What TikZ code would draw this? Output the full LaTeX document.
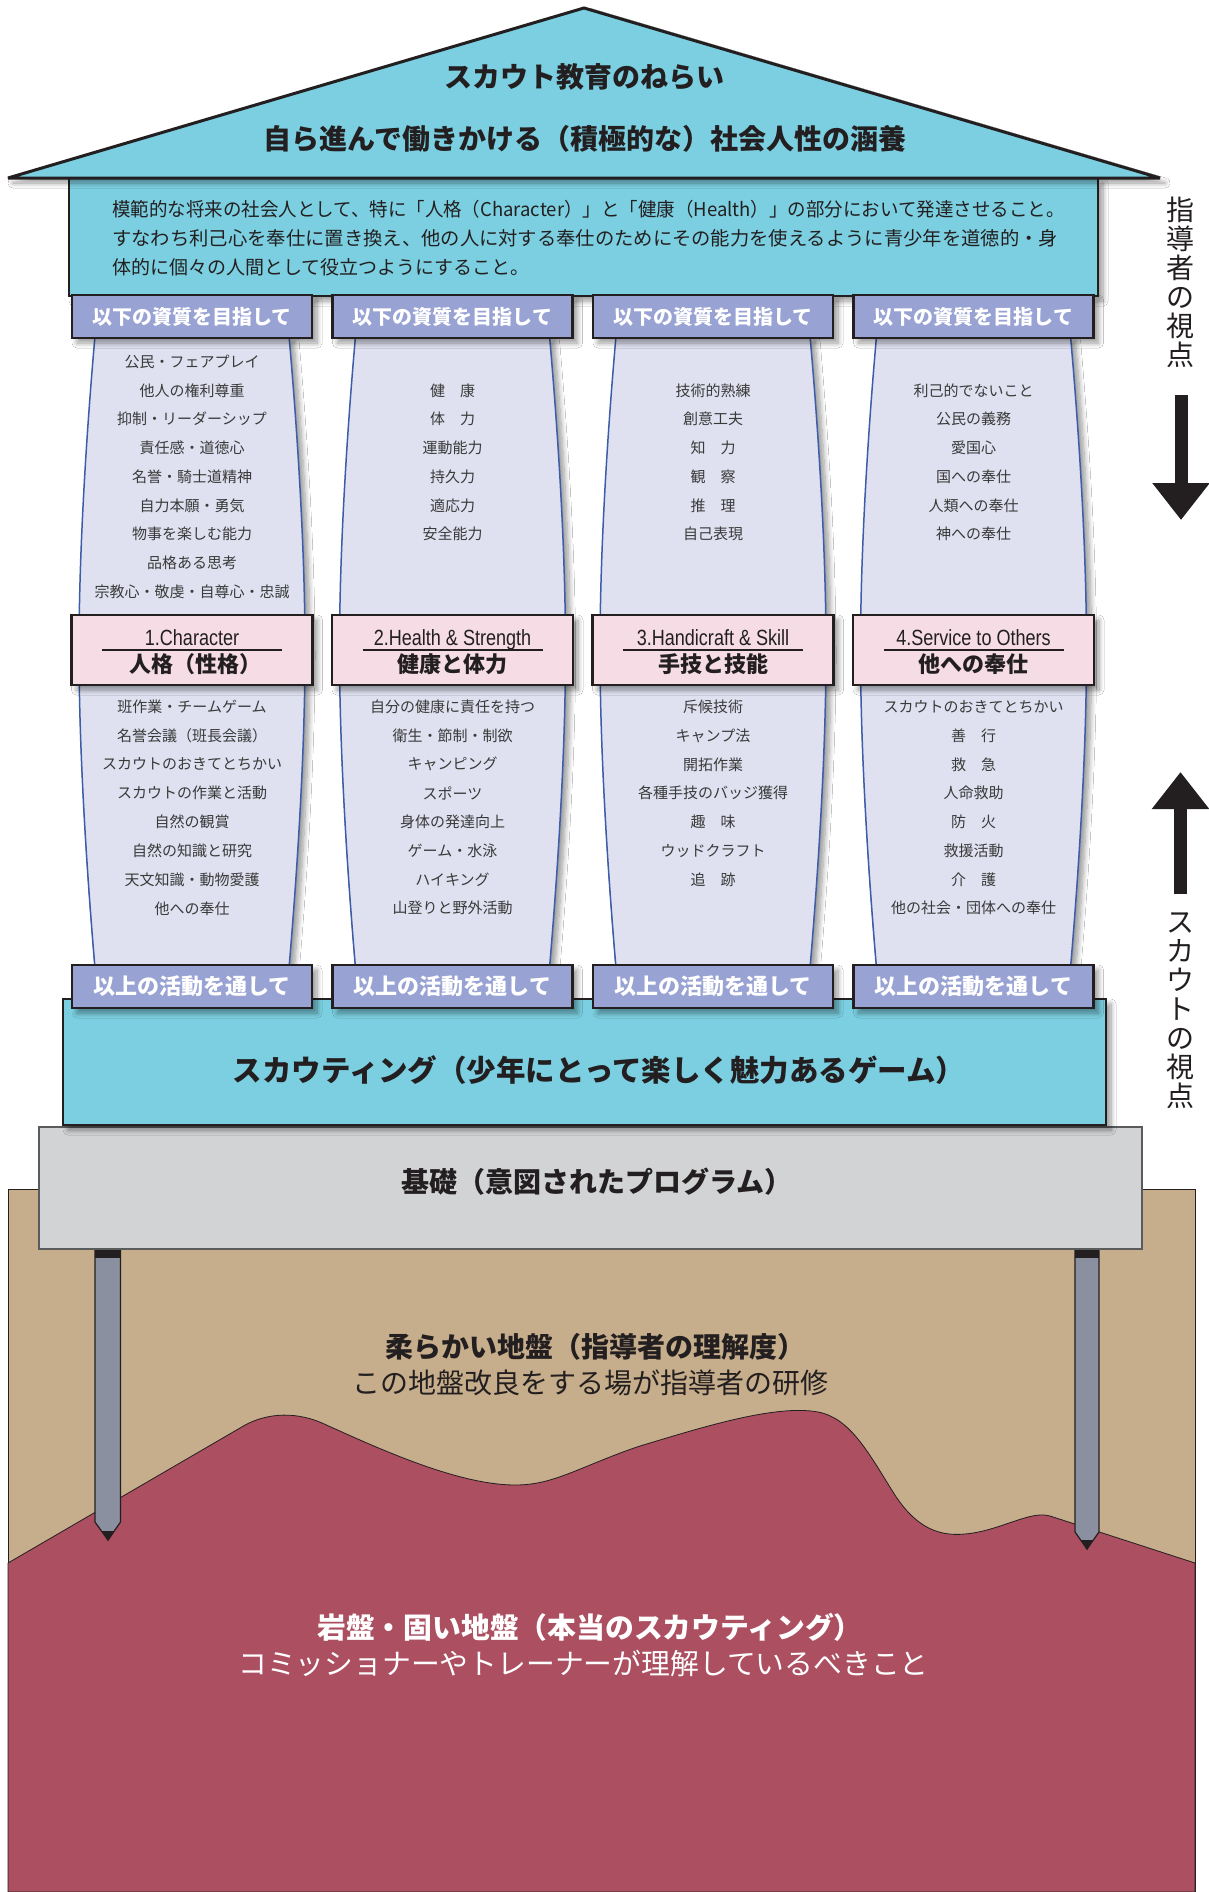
\documentclass[tikz,border=0pt]{standalone}
\usepackage{fontspec}
\usepackage{graphicx}
\usetikzlibrary{shadows.blur,arrows.meta}
\newfontfamily\jp{Noto Sans CJK JP}
\newfontfamily\lat[FakeStretch=0.82]{Liberation Sans}
\definecolor{inkc}{HTML}{231F20}
\definecolor{skyc}{HTML}{7BCFE0}
\definecolor{boxc}{HTML}{98A2D3}
\definecolor{shaftc}{HTML}{DFE1F0}
\definecolor{shaftline}{HTML}{3D5DA8}
\definecolor{pinkc}{HTML}{F5DCE5}
\definecolor{stonec}{HTML}{D1D3D4}
\definecolor{stoneline}{HTML}{5A5B5D}
\definecolor{soilc}{HTML}{C6AD8B}
\definecolor{rockc}{HTML}{AB4F61}
\definecolor{pilec}{HTML}{8A909F}
\definecolor{itemc}{HTML}{3A3A3A}
\begin{document}
\begin{tikzpicture}[x=1pt,y=-1pt,
  soft/.style={blur shadow={shadow xshift=5pt,shadow yshift=-5pt,shadow blur radius=5pt,shadow blur steps=10,shadow opacity=40}},
  panel/.style={draw=inkc,line width=2.5pt},
  hdr/.style={panel,soft,fill=boxc,minimum width=240pt,minimum height=43pt,inner sep=0pt,text=white,font=\jp\bfseries\fontsize{20}{22}\selectfont},
  ftr/.style={hdr,font=\jp\bfseries\fontsize{22}{24}\selectfont},
  virtue/.style={panel,soft,fill=pinkc,minimum width=241pt,minimum height=70pt,inner sep=0pt},
  item/.style={text=itemc,font=\jp\fontsize{15}{17}\selectfont,inner sep=0pt},
  shaft/.style={draw=shaftline,line width=1.5pt,fill=shaftc,soft},
  title/.style={text=inkc,font=\jp\bfseries\fontsize{28}{30}\selectfont,inner sep=0pt},
  plain/.style={text=inkc,font=\jp\fontsize{28}{30}\selectfont,inner sep=0pt},
  bodytext/.style={text=inkc,font=\jp\fontsize{19}{21}\selectfont,inner sep=0pt,anchor=west},
  pile/.style={draw=inkc,line width=1.2pt,fill=pilec},
  bigarrow/.style={draw=inkc,line width=13pt,-{Triangle[width=55pt,length=37pt]}},
  side/.style={text=inkc,font=\jp\fontsize{28}{29}\selectfont,inner sep=0pt,align=center,anchor=north},
]
\useasboundingbox (0,0) rectangle (1208,1892);
\fill[white] (0,0) rectangle (1208,1892);

% soft ground
\draw[draw=inkc,line width=0.8pt,fill=soilc] (8,1189) rectangle (1195,1892);
% bedrock
\draw[draw=inkc,line width=0.8pt,fill=rockc]
  (8,1563) -- (240,1428) .. controls (262,1414) and (292,1410) .. (322,1423)
  .. controls (382,1450) and (472,1492) .. (531,1484)
  .. controls (562,1480) and (592,1462) .. (640,1446)
  .. controls (700,1428) and (775,1404) .. (818,1412)
  .. controls (850,1418) and (868,1452) .. (893,1492)
  .. controls (913,1524) and (935,1537) .. (965,1534)
  .. controls (1000,1531) and (1030,1510) .. (1050,1516)
  -- (1195,1563) -- (1195,1892) -- (8,1892) -- cycle;

% piles
\draw[pile] (95,1250) -- (120.5,1250) -- (120.5,1522) -- (108,1540) -- (95,1522) -- cycle;
\fill[inkc] (101.5,1531) -- (114.5,1531) -- (108,1541) -- cycle;
\fill[inkc] (95,1250) rectangle (120.5,1258);
\draw[pile] (1075,1250) -- (1099,1250) -- (1099,1532) -- (1087,1549) -- (1075,1532) -- cycle;
\fill[inkc] (1081,1540) -- (1093,1540) -- (1087,1550) -- cycle;
\fill[inkc] (1075,1250) rectangle (1099,1258);

% foundation
\node[draw=stoneline,line width=2pt,fill=stonec,minimum width=1103pt,minimum height=122pt,inner sep=0pt] (base) at (590,1188) {};
\node[title] (baselabel) at (597,1182) {基礎（意図されたプログラム）};

% scouting band
\node[panel,soft,fill=skyc,minimum width=1043pt,minimum height=126pt,inner sep=0pt] (band) at (584.5,1062) {};
\node[title,font=\jp\bfseries\fontsize{29.5}{31}\selectfont] (bandlabel) at (599,1070) {スカウティング（少年にとって楽しく魅力あるゲーム）};

% ground captions
\node[title] (soft1) at (595,1347) {柔らかい地盤（指導者の理解度）};
\node[plain] (soft2) at (590.5,1383) {この地盤改良をする場が指導者の研修};
\node[title,text=white,font=\jp\bfseries\fontsize{28.8}{30}\selectfont] (rock1) at (590,1627) {岩盤・固い地盤（本当のスカウティング）};
\node[plain,text=white,font=\jp\fontsize{28.8}{30}\selectfont] (rock2) at (583.5,1663) {コミッショナーやトレーナーが理解しているべきこと};

% house body and roof
\node[panel,soft,fill=skyc,minimum width=1029pt,minimum height=118pt,inner sep=0pt] (wall) at (583.5,237) {};
\draw[panel,line width=3pt,miter limit=4,fill=skyc,soft] (584,8) -- (1160,178) -- (8,178) -- cycle;
\node[title] (aim1) at (584,77) {スカウト教育のねらい};
\node[title] (aim2) at (585,139) {自ら進んで働きかける（積極的な）社会人性の涵養};
\node[bodytext] (w1) at (112,209.5) {\scalebox{0.973}[1]{模範的な将来の社会人として、特に「人格（Character）」と「健康（Health）」の部分において発達させること。}};
\node[bodytext] (w2) at (112,238.5) {\scalebox{1.017}[1]{すなわち利己心を奉仕に置き換え、他の人に対する奉仕のためにその能力を使えるように青少年を道徳的・身}};
\node[bodytext] (w3) at (112,267.5) {体的に個々の人間として役立つようにすること。};

% pillars
\foreach \c [count=\i] in {192,452.5,713,973.5}{
  \draw[shaft] ({\c-97},336) .. controls ({\c-107},450) and ({\c-113},560) .. ({\c-113},650)
    .. controls ({\c-113},740) and ({\c-107},850) .. ({\c-97},968)
    -- ({\c+97},968) .. controls ({\c+107},850) and ({\c+113},740) .. ({\c+113},650)
    .. controls ({\c+113},560) and ({\c+107},450) .. ({\c+97},336) -- cycle;
  \node[hdr] (top\i) at (\c,316.5) {以下の資質を目指して};
  \node[ftr] (foot\i) at (\c,986.5) {以上の活動を通して};
  \node[virtue] (v\i) at (\c,650) {};
  \draw[inkc,line width=2.5pt] ([xshift=-90pt]v\i.center) -- ([xshift=90pt]v\i.center);
}
\foreach \c/\en/\ja/\dx [count=\i] in {192/1.Character/人格（性格）/3,452.5/2.Health \& Strength/健康と体力/0,713/3.Handicraft \& Skill/手技と技能/0,973.5/4.Service to Others/他への奉仕/0}{
  \node[anchor=base,inner sep=0pt,text=inkc,font=\lat\fontsize{22}{24}\selectfont] (ve\i) at (\c,645) {\en};
  \node[title,font=\jp\bfseries\fontsize{22}{24}\selectfont] (vj\i) at ({\c+\dx},664) {\ja};
}

% qualities
\foreach \t [count=\k] in {公民・フェアプレイ,他人の権利尊重,抑制・リーダーシップ,責任感・道徳心,名誉・騎士道精神,自力本願・勇気,物事を楽しむ能力,品格ある思考,宗教心・敬虔・自尊心・忠誠}
  \node[item] (qa\k) at (192,{361.7+(\k-1)*28.75}) {\t};
\foreach \t [count=\k from 2] in {健　康,体　力,運動能力,持久力,適応力,安全能力}
  \node[item] (qb\k) at (452.5,{361.7+(\k-1)*28.75}) {\t};
\foreach \t [count=\k from 2] in {技術的熟練,創意工夫,知　力,観　察,推　理,自己表現}
  \node[item] (qc\k) at (713,{361.7+(\k-1)*28.75}) {\t};
\foreach \t [count=\k from 2] in {利己的でないこと,公民の義務,愛国心,国への奉仕,人類への奉仕,神への奉仕}
  \node[item] (qd\k) at (973.5,{361.7+(\k-1)*28.75}) {\t};

% activities
\foreach \t [count=\k] in {班作業・チームゲーム,名誉会議（班長会議）,スカウトのおきてとちかい,スカウトの作業と活動,自然の観賞,自然の知識と研究,天文知識・動物愛護,他への奉仕}
  \node[item] (aa\k) at (192,{706.7+(\k-1)*28.8}) {\t};
\foreach \t [count=\k] in {自分の健康に責任を持つ,衛生・節制・制欲,キャンピング,スポーツ,身体の発達向上,ゲーム・水泳,ハイキング,山登りと野外活動}
  \node[item] (ab\k) at (452.5,{706.7+(\k-1)*28.8}) {\t};
\foreach \t [count=\k] in {斥候技術,キャンプ法,開拓作業,各種手技のバッジ獲得,趣　味,ウッドクラフト,追　跡}
  \node[item] (ac\k) at (713,{706.7+(\k-1)*28.8}) {\t};
\foreach \t [count=\k] in {スカウトのおきてとちかい,善　行,救　急,人命救助,防　火,救援活動,介　護,他の社会・団体への奉仕}
  \node[item] (ad\k) at (973.5,{706.7+(\k-1)*28.8}) {\t};

% viewpoints
\node[side] (leaderview) at (1180,197) {指\\導\\者\\の\\視\\点};
\coordinate (downfrom) at (1181,395);
\coordinate (downto) at (1181,520);
\draw[bigarrow] (downfrom) -- (downto);
\coordinate (upfrom) at (1180.5,894);
\coordinate (upto) at (1180.5,772);
\draw[bigarrow] (upfrom) -- (upto);
\node[side] (scoutview) at (1180,912) {ス\\カ\\ウ\\ト\\の\\視\\点};
\end{tikzpicture}
\end{document}
